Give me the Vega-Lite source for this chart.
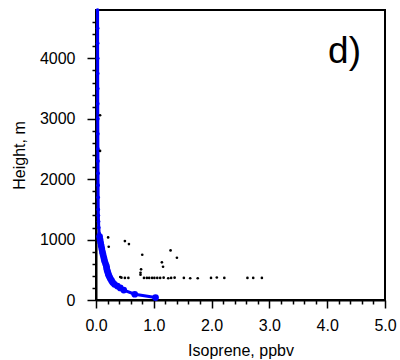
{
  "$schema": "https://vega.github.io/schema/vega-lite/v6.json",
  "width": 289,
  "height": 290,
  "autosize": {"type": "none"},
  "padding": {"left": 96, "top": 10, "right": 15, "bottom": 60},
  "background": "white",
  "config": {
    "font": "Liberation Sans",
    "view": {"stroke": "black", "strokeWidth": 2},
    "axis": {
      "grid": false,
      "domainColor": "black",
      "domainWidth": 2,
      "tickColor": "black",
      "tickWidth": 1.5,
      "labelColor": "black",
      "titleColor": "black",
      "labelFontSize": 16,
      "titleFontSize": 16,
      "titleFontWeight": "normal",
      "labelFont": "Liberation Sans",
      "titleFont": "Liberation Sans",
      "labelOverlap": false,
      "labelFlush": false,
      "labelBound": false
    }
  },
  "resolve": {"axis": {"x": "independent", "y": "independent"}},
  "datasets": {
    "model": [
      {"h": 40, "iso": 1.03},
      {"h": 95, "iso": 0.67},
      {"h": 165, "iso": 0.48},
      {"h": 200, "iso": 0.42},
      {"h": 230, "iso": 0.37},
      {"h": 260, "iso": 0.32},
      {"h": 290, "iso": 0.29},
      {"h": 320, "iso": 0.27},
      {"h": 350, "iso": 0.25},
      {"h": 380, "iso": 0.235},
      {"h": 410, "iso": 0.22},
      {"h": 440, "iso": 0.21},
      {"h": 470, "iso": 0.2},
      {"h": 500, "iso": 0.19},
      {"h": 530, "iso": 0.185},
      {"h": 560, "iso": 0.18},
      {"h": 600, "iso": 0.165},
      {"h": 640, "iso": 0.15},
      {"h": 680, "iso": 0.14},
      {"h": 720, "iso": 0.13},
      {"h": 760, "iso": 0.12},
      {"h": 800, "iso": 0.11},
      {"h": 850, "iso": 0.1},
      {"h": 900, "iso": 0.09},
      {"h": 950, "iso": 0.08},
      {"h": 1000, "iso": 0.07},
      {"h": 1050, "iso": 0.062},
      {"h": 1100, "iso": 0.056},
      {"h": 1200, "iso": 0.048},
      {"h": 1300, "iso": 0.044},
      {"h": 1400, "iso": 0.041},
      {"h": 1500, "iso": 0.039},
      {"h": 1700, "iso": 0.037},
      {"h": 1900, "iso": 0.036},
      {"h": 2100, "iso": 0.035},
      {"h": 2300, "iso": 0.034},
      {"h": 2500, "iso": 0.033},
      {"h": 2750, "iso": 0.032},
      {"h": 3000, "iso": 0.031},
      {"h": 3250, "iso": 0.03},
      {"h": 3500, "iso": 0.03},
      {"h": 3750, "iso": 0.029},
      {"h": 4000, "iso": 0.029},
      {"h": 4250, "iso": 0.028},
      {"h": 4500, "iso": 0.028},
      {"h": 4800, "iso": 0.027}
    ],
    "obs": [
      {"h": 3058, "iso": 0.07},
      {"h": 2468, "iso": 0.07},
      {"h": 1036, "iso": 0.21},
      {"h": 881, "iso": 0.22},
      {"h": 975, "iso": 0.5},
      {"h": 926, "iso": 0.57},
      {"h": 749, "iso": 0.8},
      {"h": 821, "iso": 1.29},
      {"h": 699, "iso": 1.4},
      {"h": 623, "iso": 1.14},
      {"h": 551, "iso": 1.16},
      {"h": 507, "iso": 0.78},
      {"h": 451, "iso": 0.77},
      {"h": 418, "iso": 0.77},
      {"h": 380, "iso": 0.42},
      {"h": 370, "iso": 0.44},
      {"h": 365, "iso": 0.5},
      {"h": 365, "iso": 0.56},
      {"h": 365, "iso": 0.83},
      {"h": 365, "iso": 0.88},
      {"h": 365, "iso": 0.92},
      {"h": 365, "iso": 0.97},
      {"h": 365, "iso": 1.01},
      {"h": 365, "iso": 1.06},
      {"h": 365, "iso": 1.11},
      {"h": 370, "iso": 1.17},
      {"h": 360, "iso": 1.25},
      {"h": 365, "iso": 1.3},
      {"h": 370, "iso": 1.36},
      {"h": 365, "iso": 1.52},
      {"h": 360, "iso": 1.63},
      {"h": 360, "iso": 1.76},
      {"h": 365, "iso": 1.99},
      {"h": 372, "iso": 2.09},
      {"h": 365, "iso": 2.22},
      {"h": 365, "iso": 2.62},
      {"h": 365, "iso": 2.72},
      {"h": 365, "iso": 2.87}
    ],
    "label": [
      {"iso": 4.3, "h": 3930, "text": "d)"}
    ]
  },
  "layer": [
    {
      "data": {"name": "model"},
      "mark": {"type": "line", "color": "#0000ff", "strokeWidth": 3},
      "encoding": {
        "x": {
          "field": "iso", "type": "quantitative",
          "scale": {"domain": [0, 5], "nice": false, "zero": false},
          "axis": {
            "orient": "bottom",
            "title": "Isoprene, ppbv",
            "values": [0, 1, 2, 3, 4, 5],
            "format": ".1f",
            "tickSize": 8,
            "labelPadding": 9,
            "titlePadding": 9
          }
        },
        "y": {
          "field": "h", "type": "quantitative",
          "scale": {"domain": [0, 4800], "nice": false, "zero": false},
          "axis": {
            "orient": "left",
            "title": "Height, m",
            "values": [0, 1000, 2000, 3000, 4000],
            "format": "d",
            "tickSize": 9,
            "labelPadding": 12,
            "titlePadding": 12
          }
        },
        "order": {"field": "h", "type": "quantitative"}
      }
    },
    {
      "data": {"name": "model"},
      "transform": [{"filter": "datum.h <= 1050"}],
      "mark": {"type": "point", "filled": true, "color": "#0000ff", "size": 45, "opacity": 1},
      "encoding": {
        "x": {
          "field": "iso", "type": "quantitative",
          "axis": {
            "orient": "bottom",
            "title": null,
            "labels": false,
            "domain": false,
            "values": [0.2, 0.4, 0.6, 0.8, 1.2, 1.4, 1.6, 1.8, 2.2, 2.4, 2.6, 2.8, 3.2, 3.4, 3.6, 3.8, 4.2, 4.4, 4.6, 4.8],
            "tickSize": 4
          }
        },
        "y": {
          "field": "h", "type": "quantitative",
          "axis": {
            "orient": "left",
            "title": null,
            "labels": false,
            "domain": false,
            "values": [200, 400, 600, 800, 1200, 1400, 1600, 1800, 2200, 2400, 2600, 2800, 3200, 3400, 3600, 3800, 4200, 4400, 4600],
            "tickSize": 4
          }
        }
      }
    },
    {
      "data": {"name": "model"},
      "transform": [{"filter": "datum.h > 1050"}],
      "mark": {"type": "point", "filled": true, "color": "#0000ff", "size": 14, "opacity": 1},
      "encoding": {
        "x": {"field": "iso", "type": "quantitative", "axis": null},
        "y": {"field": "h", "type": "quantitative", "axis": null}
      }
    },
    {
      "data": {"name": "obs"},
      "mark": {"type": "point", "filled": true, "color": "black", "size": 7, "opacity": 1},
      "encoding": {
        "x": {"field": "iso", "type": "quantitative", "axis": null},
        "y": {"field": "h", "type": "quantitative", "axis": null}
      }
    },
    {
      "data": {"name": "label"},
      "mark": {"type": "text", "fontSize": 37, "font": "Liberation Sans", "align": "center", "baseline": "alphabetic", "color": "black"},
      "encoding": {
        "x": {"field": "iso", "type": "quantitative", "axis": null},
        "y": {"field": "h", "type": "quantitative", "axis": null},
        "text": {"field": "text"}
      }
    }
  ]
}
